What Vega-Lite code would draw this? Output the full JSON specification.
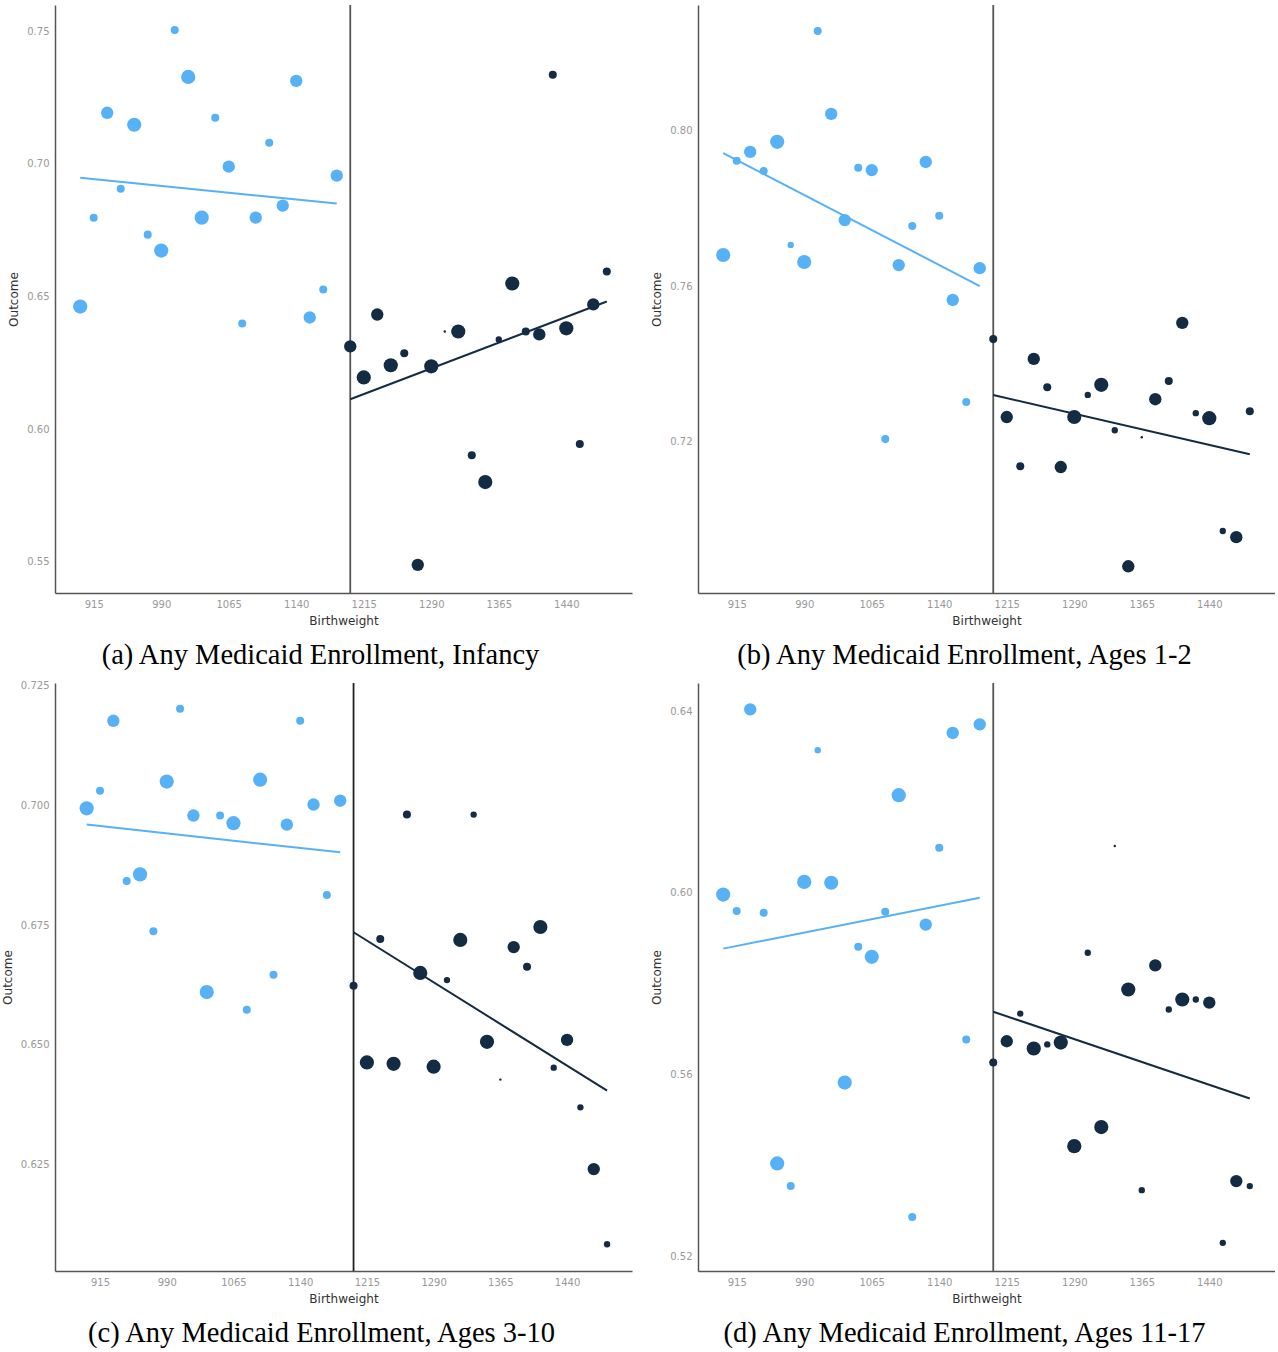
{
  "$schema": "https://vega.github.io/schema/vega-lite/v6.json",
  "background": "white",
  "padding": {"left": 1, "top": 4, "right": 0, "bottom": 0},
  "columns": 2,
  "spacing": {"row": 90, "column": 66},
  "bounds": "flush",
  "datasets": {
    "pts": [
      {"panel":"a","birthweight":900,"outcome":0.6462,"n":100,"side":"below"},
      {"panel":"a","birthweight":915,"outcome":0.6797,"n":32,"side":"below"},
      {"panel":"a","birthweight":930,"outcome":0.7192,"n":76,"side":"below"},
      {"panel":"a","birthweight":945,"outcome":0.6906,"n":32,"side":"below"},
      {"panel":"a","birthweight":960,"outcome":0.7147,"n":100,"side":"below"},
      {"panel":"a","birthweight":975,"outcome":0.6733,"n":32,"side":"below"},
      {"panel":"a","birthweight":990,"outcome":0.6673,"n":100,"side":"below"},
      {"panel":"a","birthweight":1005,"outcome":0.7504,"n":32,"side":"below"},
      {"panel":"a","birthweight":1020,"outcome":0.7327,"n":100,"side":"below"},
      {"panel":"a","birthweight":1035,"outcome":0.6797,"n":100,"side":"below"},
      {"panel":"a","birthweight":1050,"outcome":0.7173,"n":32,"side":"below"},
      {"panel":"a","birthweight":1065,"outcome":0.6989,"n":76,"side":"below"},
      {"panel":"a","birthweight":1080,"outcome":0.6398,"n":32,"side":"below"},
      {"panel":"a","birthweight":1095,"outcome":0.6797,"n":76,"side":"below"},
      {"panel":"a","birthweight":1110,"outcome":0.7079,"n":32,"side":"below"},
      {"panel":"a","birthweight":1125,"outcome":0.6842,"n":76,"side":"below"},
      {"panel":"a","birthweight":1140,"outcome":0.7312,"n":76,"side":"below"},
      {"panel":"a","birthweight":1155,"outcome":0.6421,"n":76,"side":"below"},
      {"panel":"a","birthweight":1170,"outcome":0.6526,"n":32,"side":"below"},
      {"panel":"a","birthweight":1185,"outcome":0.6955,"n":76,"side":"below"},
      {"panel":"a","birthweight":1200,"outcome":0.6312,"n":76,"side":"above"},
      {"panel":"a","birthweight":1215,"outcome":0.6195,"n":100,"side":"above"},
      {"panel":"a","birthweight":1230,"outcome":0.6432,"n":76,"side":"above"},
      {"panel":"a","birthweight":1245,"outcome":0.6241,"n":100,"side":"above"},
      {"panel":"a","birthweight":1260,"outcome":0.6286,"n":32,"side":"above"},
      {"panel":"a","birthweight":1275,"outcome":0.5489,"n":76,"side":"above"},
      {"panel":"a","birthweight":1290,"outcome":0.6237,"n":100,"side":"above"},
      {"panel":"a","birthweight":1305,"outcome":0.6368,"n":3,"side":"above"},
      {"panel":"a","birthweight":1320,"outcome":0.6368,"n":100,"side":"above"},
      {"panel":"a","birthweight":1335,"outcome":0.5902,"n":32,"side":"above"},
      {"panel":"a","birthweight":1350,"outcome":0.5801,"n":100,"side":"above"},
      {"panel":"a","birthweight":1365,"outcome":0.6338,"n":20,"side":"above"},
      {"panel":"a","birthweight":1380,"outcome":0.6549,"n":100,"side":"above"},
      {"panel":"a","birthweight":1395,"outcome":0.6368,"n":32,"side":"above"},
      {"panel":"a","birthweight":1410,"outcome":0.6357,"n":76,"side":"above"},
      {"panel":"a","birthweight":1425,"outcome":0.7335,"n":32,"side":"above"},
      {"panel":"a","birthweight":1440,"outcome":0.6380,"n":100,"side":"above"},
      {"panel":"a","birthweight":1455,"outcome":0.5944,"n":32,"side":"above"},
      {"panel":"a","birthweight":1470,"outcome":0.6470,"n":76,"side":"above"},
      {"panel":"a","birthweight":1485,"outcome":0.6594,"n":32,"side":"above"},

      {"panel":"b","birthweight":900,"outcome":0.7680,"n":100,"side":"below"},
      {"panel":"b","birthweight":915,"outcome":0.7923,"n":32,"side":"below"},
      {"panel":"b","birthweight":930,"outcome":0.7946,"n":76,"side":"below"},
      {"panel":"b","birthweight":945,"outcome":0.7897,"n":32,"side":"below"},
      {"panel":"b","birthweight":960,"outcome":0.7972,"n":100,"side":"below"},
      {"panel":"b","birthweight":975,"outcome":0.7706,"n":20,"side":"below"},
      {"panel":"b","birthweight":990,"outcome":0.7662,"n":100,"side":"below"},
      {"panel":"b","birthweight":1005,"outcome":0.8258,"n":32,"side":"below"},
      {"panel":"b","birthweight":1020,"outcome":0.8044,"n":76,"side":"below"},
      {"panel":"b","birthweight":1035,"outcome":0.7770,"n":76,"side":"below"},
      {"panel":"b","birthweight":1050,"outcome":0.7905,"n":32,"side":"below"},
      {"panel":"b","birthweight":1065,"outcome":0.7899,"n":76,"side":"below"},
      {"panel":"b","birthweight":1080,"outcome":0.7205,"n":32,"side":"below"},
      {"panel":"b","birthweight":1095,"outcome":0.7654,"n":76,"side":"below"},
      {"panel":"b","birthweight":1110,"outcome":0.7755,"n":32,"side":"below"},
      {"panel":"b","birthweight":1125,"outcome":0.7920,"n":76,"side":"below"},
      {"panel":"b","birthweight":1140,"outcome":0.7781,"n":32,"side":"below"},
      {"panel":"b","birthweight":1155,"outcome":0.7564,"n":76,"side":"below"},
      {"panel":"b","birthweight":1170,"outcome":0.7301,"n":32,"side":"below"},
      {"panel":"b","birthweight":1185,"outcome":0.7646,"n":76,"side":"below"},
      {"panel":"b","birthweight":1200,"outcome":0.7463,"n":32,"side":"above"},
      {"panel":"b","birthweight":1215,"outcome":0.7262,"n":76,"side":"above"},
      {"panel":"b","birthweight":1230,"outcome":0.7135,"n":32,"side":"above"},
      {"panel":"b","birthweight":1245,"outcome":0.7412,"n":76,"side":"above"},
      {"panel":"b","birthweight":1260,"outcome":0.7339,"n":32,"side":"above"},
      {"panel":"b","birthweight":1275,"outcome":0.7133,"n":76,"side":"above"},
      {"panel":"b","birthweight":1290,"outcome":0.7262,"n":100,"side":"above"},
      {"panel":"b","birthweight":1305,"outcome":0.7319,"n":20,"side":"above"},
      {"panel":"b","birthweight":1320,"outcome":0.7345,"n":100,"side":"above"},
      {"panel":"b","birthweight":1335,"outcome":0.7228,"n":20,"side":"above"},
      {"panel":"b","birthweight":1350,"outcome":0.6877,"n":76,"side":"above"},
      {"panel":"b","birthweight":1365,"outcome":0.7210,"n":3,"side":"above"},
      {"panel":"b","birthweight":1380,"outcome":0.7308,"n":76,"side":"above"},
      {"panel":"b","birthweight":1395,"outcome":0.7355,"n":32,"side":"above"},
      {"panel":"b","birthweight":1410,"outcome":0.7505,"n":76,"side":"above"},
      {"panel":"b","birthweight":1425,"outcome":0.7272,"n":20,"side":"above"},
      {"panel":"b","birthweight":1440,"outcome":0.7259,"n":100,"side":"above"},
      {"panel":"b","birthweight":1455,"outcome":0.6968,"n":20,"side":"above"},
      {"panel":"b","birthweight":1470,"outcome":0.6952,"n":76,"side":"above"},
      {"panel":"b","birthweight":1485,"outcome":0.7277,"n":32,"side":"above"},

      {"panel":"c","birthweight":900,"outcome":0.6994,"n":100,"side":"below"},
      {"panel":"c","birthweight":915,"outcome":0.7031,"n":32,"side":"below"},
      {"panel":"c","birthweight":930,"outcome":0.7177,"n":76,"side":"below"},
      {"panel":"c","birthweight":945,"outcome":0.6842,"n":32,"side":"below"},
      {"panel":"c","birthweight":960,"outcome":0.6856,"n":100,"side":"below"},
      {"panel":"c","birthweight":975,"outcome":0.6737,"n":32,"side":"below"},
      {"panel":"c","birthweight":990,"outcome":0.7050,"n":100,"side":"below"},
      {"panel":"c","birthweight":1005,"outcome":0.7202,"n":32,"side":"below"},
      {"panel":"c","birthweight":1020,"outcome":0.6979,"n":76,"side":"below"},
      {"panel":"c","birthweight":1035,"outcome":0.6610,"n":100,"side":"below"},
      {"panel":"c","birthweight":1050,"outcome":0.6979,"n":32,"side":"below"},
      {"panel":"c","birthweight":1065,"outcome":0.6963,"n":100,"side":"below"},
      {"panel":"c","birthweight":1080,"outcome":0.6573,"n":32,"side":"below"},
      {"panel":"c","birthweight":1095,"outcome":0.7054,"n":100,"side":"below"},
      {"panel":"c","birthweight":1110,"outcome":0.6646,"n":32,"side":"below"},
      {"panel":"c","birthweight":1125,"outcome":0.6960,"n":76,"side":"below"},
      {"panel":"c","birthweight":1140,"outcome":0.7177,"n":32,"side":"below"},
      {"panel":"c","birthweight":1155,"outcome":0.7002,"n":76,"side":"below"},
      {"panel":"c","birthweight":1170,"outcome":0.6813,"n":32,"side":"below"},
      {"panel":"c","birthweight":1185,"outcome":0.7010,"n":76,"side":"below"},
      {"panel":"c","birthweight":1200,"outcome":0.6623,"n":32,"side":"above"},
      {"panel":"c","birthweight":1215,"outcome":0.6463,"n":100,"side":"above"},
      {"panel":"c","birthweight":1230,"outcome":0.6721,"n":32,"side":"above"},
      {"panel":"c","birthweight":1245,"outcome":0.6460,"n":100,"side":"above"},
      {"panel":"c","birthweight":1260,"outcome":0.6981,"n":32,"side":"above"},
      {"panel":"c","birthweight":1275,"outcome":0.6650,"n":100,"side":"above"},
      {"panel":"c","birthweight":1290,"outcome":0.6454,"n":100,"side":"above"},
      {"panel":"c","birthweight":1305,"outcome":0.6635,"n":20,"side":"above"},
      {"panel":"c","birthweight":1320,"outcome":0.6719,"n":100,"side":"above"},
      {"panel":"c","birthweight":1335,"outcome":0.6981,"n":20,"side":"above"},
      {"panel":"c","birthweight":1350,"outcome":0.6506,"n":100,"side":"above"},
      {"panel":"c","birthweight":1365,"outcome":0.6427,"n":3,"side":"above"},
      {"panel":"c","birthweight":1380,"outcome":0.6704,"n":76,"side":"above"},
      {"panel":"c","birthweight":1395,"outcome":0.6663,"n":32,"side":"above"},
      {"panel":"c","birthweight":1410,"outcome":0.6746,"n":100,"side":"above"},
      {"panel":"c","birthweight":1425,"outcome":0.6452,"n":20,"side":"above"},
      {"panel":"c","birthweight":1440,"outcome":0.6510,"n":76,"side":"above"},
      {"panel":"c","birthweight":1455,"outcome":0.6369,"n":20,"side":"above"},
      {"panel":"c","birthweight":1470,"outcome":0.6240,"n":76,"side":"above"},
      {"panel":"c","birthweight":1485,"outcome":0.6083,"n":20,"side":"above"},

      {"panel":"d","birthweight":900,"outcome":0.5996,"n":100,"side":"below"},
      {"panel":"d","birthweight":915,"outcome":0.5960,"n":32,"side":"below"},
      {"panel":"d","birthweight":930,"outcome":0.6404,"n":76,"side":"below"},
      {"panel":"d","birthweight":945,"outcome":0.5956,"n":32,"side":"below"},
      {"panel":"d","birthweight":960,"outcome":0.5404,"n":100,"side":"below"},
      {"panel":"d","birthweight":975,"outcome":0.5354,"n":32,"side":"below"},
      {"panel":"d","birthweight":990,"outcome":0.6024,"n":100,"side":"below"},
      {"panel":"d","birthweight":1005,"outcome":0.6314,"n":20,"side":"below"},
      {"panel":"d","birthweight":1020,"outcome":0.6022,"n":100,"side":"below"},
      {"panel":"d","birthweight":1035,"outcome":0.5582,"n":100,"side":"below"},
      {"panel":"d","birthweight":1050,"outcome":0.5881,"n":32,"side":"below"},
      {"panel":"d","birthweight":1065,"outcome":0.5859,"n":100,"side":"below"},
      {"panel":"d","birthweight":1080,"outcome":0.5958,"n":32,"side":"below"},
      {"panel":"d","birthweight":1095,"outcome":0.6215,"n":100,"side":"below"},
      {"panel":"d","birthweight":1110,"outcome":0.5286,"n":32,"side":"below"},
      {"panel":"d","birthweight":1125,"outcome":0.5930,"n":76,"side":"below"},
      {"panel":"d","birthweight":1140,"outcome":0.6099,"n":32,"side":"below"},
      {"panel":"d","birthweight":1155,"outcome":0.6352,"n":76,"side":"below"},
      {"panel":"d","birthweight":1170,"outcome":0.5677,"n":32,"side":"below"},
      {"panel":"d","birthweight":1185,"outcome":0.6371,"n":76,"side":"below"},
      {"panel":"d","birthweight":1200,"outcome":0.5626,"n":32,"side":"above"},
      {"panel":"d","birthweight":1215,"outcome":0.5673,"n":76,"side":"above"},
      {"panel":"d","birthweight":1230,"outcome":0.5734,"n":20,"side":"above"},
      {"panel":"d","birthweight":1245,"outcome":0.5657,"n":100,"side":"above"},
      {"panel":"d","birthweight":1260,"outcome":0.5666,"n":20,"side":"above"},
      {"panel":"d","birthweight":1275,"outcome":0.5670,"n":100,"side":"above"},
      {"panel":"d","birthweight":1290,"outcome":0.5442,"n":100,"side":"above"},
      {"panel":"d","birthweight":1305,"outcome":0.5868,"n":20,"side":"above"},
      {"panel":"d","birthweight":1320,"outcome":0.5484,"n":100,"side":"above"},
      {"panel":"d","birthweight":1335,"outcome":0.6103,"n":3,"side":"above"},
      {"panel":"d","birthweight":1350,"outcome":0.5787,"n":100,"side":"above"},
      {"panel":"d","birthweight":1365,"outcome":0.5345,"n":20,"side":"above"},
      {"panel":"d","birthweight":1380,"outcome":0.5840,"n":76,"side":"above"},
      {"panel":"d","birthweight":1395,"outcome":0.5743,"n":20,"side":"above"},
      {"panel":"d","birthweight":1410,"outcome":0.5765,"n":100,"side":"above"},
      {"panel":"d","birthweight":1425,"outcome":0.5765,"n":20,"side":"above"},
      {"panel":"d","birthweight":1440,"outcome":0.5758,"n":76,"side":"above"},
      {"panel":"d","birthweight":1455,"outcome":0.5229,"n":20,"side":"above"},
      {"panel":"d","birthweight":1470,"outcome":0.5365,"n":76,"side":"above"},
      {"panel":"d","birthweight":1485,"outcome":0.5354,"n":20,"side":"above"}
    ],
    "fits": [
      {"panel":"a","side":"below","birthweight":900,"outcome":0.6947},
      {"panel":"a","side":"below","birthweight":1185,"outcome":0.6850},
      {"panel":"a","side":"above","birthweight":1200,"outcome":0.6113},
      {"panel":"a","side":"above","birthweight":1485,"outcome":0.6481},
      {"panel":"b","side":"below","birthweight":900,"outcome":0.7943},
      {"panel":"b","side":"below","birthweight":1185,"outcome":0.7600},
      {"panel":"b","side":"above","birthweight":1200,"outcome":0.7319},
      {"panel":"b","side":"above","birthweight":1485,"outcome":0.7166},
      {"panel":"c","side":"below","birthweight":900,"outcome":0.6960},
      {"panel":"c","side":"below","birthweight":1185,"outcome":0.6902},
      {"panel":"c","side":"above","birthweight":1200,"outcome":0.6735},
      {"panel":"c","side":"above","birthweight":1485,"outcome":0.6404},
      {"panel":"d","side":"below","birthweight":900,"outcome":0.5877},
      {"panel":"d","side":"below","birthweight":1185,"outcome":0.5989},
      {"panel":"d","side":"above","birthweight":1200,"outcome":0.5738},
      {"panel":"d","side":"above","birthweight":1485,"outcome":0.5547}
    ],
    "cut": [{"cutoff": 1200}]
  },
  "concat": [
    {
      "width": 577, "height": 588,
      "title": {"text": "(a) Any Medicaid Enrollment, Infancy", "dx": -23},
      "layer": [
        {"data": {"name": "cut"}, "mark": {"type": "rule", "color": "#555555", "strokeWidth": 1.8},
         "encoding": {"x": {"field": "cutoff", "type": "quantitative", "scale": {"domain": [872, 1513], "nice": false, "zero": false}, "axis": {"title": "Birthweight", "values": [915,990,1065,1140,1215,1290,1365,1440], "format": "d"}}}},
        {"data": {"name": "fits"}, "transform": [{"filter": "datum.panel === 'a'"}], "mark": {"type": "line", "strokeWidth": 2},
         "encoding": {"x": {"field": "birthweight", "type": "quantitative"}, "y": {"field": "outcome", "type": "quantitative", "scale": {"domain": [0.5383, 0.7598], "nice": false, "zero": false}, "axis": {"title": "Outcome", "values": [0.55,0.60,0.65,0.70,0.75], "format": ".2f"}}, "color": {"field": "side", "type": "nominal", "scale": {"domain": ["below","above"], "range": ["#56B1F7","#132B43"]}, "legend": null}, "detail": {"field": "side"}}},
        {"data": {"name": "pts"}, "transform": [{"filter": "datum.panel === 'a'"}], "mark": {"type": "circle", "opacity": 1},
         "encoding": {"x": {"field": "birthweight", "type": "quantitative"}, "y": {"field": "outcome", "type": "quantitative"}, "size": {"field": "n", "type": "quantitative", "scale": {"domain": [0, 100], "range": [0, 201]}, "legend": null}, "color": {"field": "side", "type": "nominal", "legend": null}}}
      ]
    },
    {
      "width": 577, "height": 588,
      "title": {"text": "(b) Any Medicaid Enrollment, Ages 1-2", "dx": -22},
      "layer": [
        {"data": {"name": "cut"}, "mark": {"type": "rule", "color": "#555555", "strokeWidth": 1.8},
         "encoding": {"x": {"field": "cutoff", "type": "quantitative", "scale": {"domain": [872, 1513], "nice": false, "zero": false}, "axis": {"title": "Birthweight", "values": [915,990,1065,1140,1215,1290,1365,1440], "format": "d"}}}},
        {"data": {"name": "fits"}, "transform": [{"filter": "datum.panel === 'b'"}], "mark": {"type": "line", "strokeWidth": 2},
         "encoding": {"x": {"field": "birthweight", "type": "quantitative"}, "y": {"field": "outcome", "type": "quantitative", "scale": {"domain": [0.6808, 0.8325], "nice": false, "zero": false}, "axis": {"title": "Outcome", "values": [0.72,0.76,0.80], "format": ".2f"}}, "color": {"field": "side", "type": "nominal", "scale": {"domain": ["below","above"], "range": ["#56B1F7","#132B43"]}, "legend": null}, "detail": {"field": "side"}}},
        {"data": {"name": "pts"}, "transform": [{"filter": "datum.panel === 'b'"}], "mark": {"type": "circle", "opacity": 1},
         "encoding": {"x": {"field": "birthweight", "type": "quantitative"}, "y": {"field": "outcome", "type": "quantitative"}, "size": {"field": "n", "type": "quantitative", "scale": {"domain": [0, 100], "range": [0, 201]}, "legend": null}, "color": {"field": "side", "type": "nominal", "legend": null}}}
      ]
    },
    {
      "width": 577, "height": 588,
      "title": {"text": "(c) Any Medicaid Enrollment, Ages 3-10", "dx": -22},
      "layer": [
        {"data": {"name": "cut"}, "mark": {"type": "rule", "color": "#222222", "strokeWidth": 1.8},
         "encoding": {"x": {"field": "cutoff", "type": "quantitative", "scale": {"domain": [864.4, 1513], "nice": false, "zero": false}, "axis": {"title": "Birthweight", "values": [915,990,1065,1140,1215,1290,1365,1440], "format": "d"}}}},
        {"data": {"name": "fits"}, "transform": [{"filter": "datum.panel === 'c'"}], "mark": {"type": "line", "strokeWidth": 2},
         "encoding": {"x": {"field": "birthweight", "type": "quantitative"}, "y": {"field": "outcome", "type": "quantitative", "scale": {"domain": [0.6027, 0.7256], "nice": false, "zero": false}, "axis": {"title": "Outcome", "values": [0.625,0.65,0.675,0.70,0.725], "format": ".3f"}}, "color": {"field": "side", "type": "nominal", "scale": {"domain": ["below","above"], "range": ["#56B1F7","#132B43"]}, "legend": null}, "detail": {"field": "side"}}},
        {"data": {"name": "pts"}, "transform": [{"filter": "datum.panel === 'c'"}], "mark": {"type": "circle", "opacity": 1},
         "encoding": {"x": {"field": "birthweight", "type": "quantitative"}, "y": {"field": "outcome", "type": "quantitative"}, "size": {"field": "n", "type": "quantitative", "scale": {"domain": [0, 100], "range": [0, 201]}, "legend": null}, "color": {"field": "side", "type": "nominal", "legend": null}}}
      ]
    },
    {
      "width": 577, "height": 588,
      "title": {"text": "(d) Any Medicaid Enrollment, Ages 11-17", "dx": -22},
      "layer": [
        {"data": {"name": "cut"}, "mark": {"type": "rule", "color": "#555555", "strokeWidth": 1.8},
         "encoding": {"x": {"field": "cutoff", "type": "quantitative", "scale": {"domain": [872, 1513], "nice": false, "zero": false}, "axis": {"title": "Birthweight", "values": [915,990,1065,1140,1215,1290,1365,1440], "format": "d"}}}},
        {"data": {"name": "fits"}, "transform": [{"filter": "datum.panel === 'd'"}], "mark": {"type": "line", "strokeWidth": 2},
         "encoding": {"x": {"field": "birthweight", "type": "quantitative"}, "y": {"field": "outcome", "type": "quantitative", "scale": {"domain": [0.5167, 0.6462], "nice": false, "zero": false}, "axis": {"title": "Outcome", "values": [0.52,0.56,0.60,0.64], "format": ".2f"}}, "color": {"field": "side", "type": "nominal", "scale": {"domain": ["below","above"], "range": ["#56B1F7","#132B43"]}, "legend": null}, "detail": {"field": "side"}}},
        {"data": {"name": "pts"}, "transform": [{"filter": "datum.panel === 'd'"}], "mark": {"type": "circle", "opacity": 1},
         "encoding": {"x": {"field": "birthweight", "type": "quantitative"}, "y": {"field": "outcome", "type": "quantitative"}, "size": {"field": "n", "type": "quantitative", "scale": {"domain": [0, 100], "range": [0, 201]}, "legend": null}, "color": {"field": "side", "type": "nominal", "legend": null}}}
      ]
    }
  ],
  "config": {
    "view": {"stroke": null},
    "axis": {"grid": false, "ticks": false, "domainColor": "#555555", "domainWidth": 1.5, "labelColor": "#999999", "labelFont": "DejaVu Sans", "labelFontSize": 10, "labelPadding": 6, "titleFont": "DejaVu Sans", "titleFontSize": 12, "titleFontWeight": "normal", "titleColor": "#333333", "titlePadding": 6},
    "title": {"orient": "bottom", "anchor": "middle", "font": "Liberation Serif", "fontSize": 28.5, "fontWeight": "normal", "color": "#000000", "offset": 15}
  }
}
